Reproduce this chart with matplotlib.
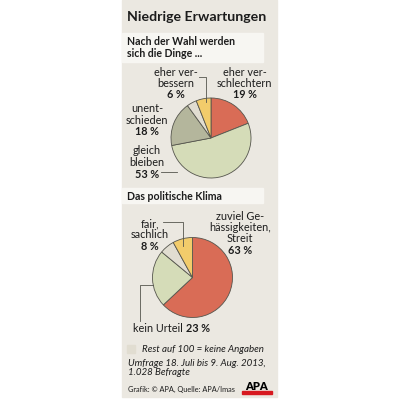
import matplotlib.pyplot as plt
from matplotlib.patches import Rectangle

plt.rcParams['font.family'] = ['Lato', 'DejaVu Sans']

# data
title = "Niedrige Erwartungen"
pie1_title = "Nach der Wahl werden\nsich die Dinge ..."
pie1_labels = ["eher ver-\nschlechtern", "gleich\nbleiben", "unent-\nschieden", "keine Angaben", "eher ver-\nbessern"]
pie1_values = [19, 53, 18, 4, 6]
pie2_title = "Das politische Klima"
pie2_labels = ["zuviel Ge-\nhässigkeiten,\nStreit", "kein Urteil", "keine Angaben", "fair,\nsachlich"]
pie2_values = [63, 23, 6, 8]
note = "Rest auf 100 = keine Angaben"
survey = "Umfrage 18. Juli bis 9. Aug. 2013,\n1.028 Befragte"
source = "Grafik: © APA, Quelle: APA/Imas"

RED = '#d96c56'
LGREEN = '#d5dcb8'
GGREEN = '#b4b69c'
LGREY = '#e1ddd1'
YELLOW = '#f2cc6b'
pie1_colors = [RED, LGREEN, GGREEN, LGREY, YELLOW]
pie2_colors = [RED, LGREEN, LGREY, YELLOW]

BG = '#ebe8e1'
BOX = '#f7f6f2'
TXT = '#1c1c1c'
LINE = '#55554d'

fig = plt.figure(figsize=(4, 4), dpi=100)
ax = fig.add_axes([0, 0, 1, 1])

# panel + header boxes (pixel coords, y downwards)
ax.add_patch(Rectangle((122, 0), 155, 397, color=BG, zorder=0))
ax.add_patch(Rectangle((122, 33), 141, 29, color=BOX, zorder=1))
ax.add_patch(Rectangle((122, 188), 141, 15, color=BOX, zorder=1))

ax.text(127, 17, title, fontsize=10.2, fontweight='bold', color=TXT, va='center')
ax.text(127, 47.5, pie1_title, fontsize=7.6, fontweight='bold', color=TXT,
        va='center', linespacing=1.05)
ax.text(127, 196, pie2_title, fontsize=7.6, fontweight='bold', color=TXT, va='center')

# y axis is inverted, so startangle=-90 + counterclock=True runs clockwise from 12 o'clock
wp = dict(edgecolor=LINE, linewidth=0.6)
ax.pie(pie1_values, colors=pie1_colors, startangle=-90, counterclock=True,
       center=(211, 138), radius=40, frame=True, wedgeprops=wp)
ax.pie(pie2_values, colors=pie2_colors, startangle=-90, counterclock=True,
       center=(192.5, 277.5), radius=40, frame=True, wedgeprops=wp)

FS = 7.8
lab = dict(fontsize=FS, color=TXT, ha='center', va='center')


def label(x, y, text, value, step=11.5):
    lines = text.split('\n')
    for i, line in enumerate(lines):
        ax.text(x, y + i * step, line, **lab)
    ax.text(x, y + len(lines) * step, f"{value} %", fontweight='bold', **lab)


label(176, 72, pie1_labels[4], pie1_values[4])
label(244.5, 72, pie1_labels[0], pie1_values[0])
label(147, 108.5, pie1_labels[2], pie1_values[2])
label(147, 151, pie1_labels[1], pie1_values[1])
ax.plot([199, 206, 206], [77, 77, 102], color=LINE, lw=0.6)
ax.plot([161, 177], [172, 172], color=LINE, lw=0.6)

label(150, 223.5, pie2_labels[3], pie2_values[3])
label(240, 216, pie2_labels[0], pie2_values[0])
ax.text(133, 328, pie2_labels[1], fontsize=FS, color=TXT, va='center')
ax.text(186.5, 328, f"{pie2_values[1]} %", fontsize=FS, color=TXT, va='center', fontweight='bold')
ax.plot([163, 183, 183], [222, 222, 246], color=LINE, lw=0.6)
ax.plot([153, 140, 140], [285, 285, 321], color=LINE, lw=0.6)

# footer
ax.add_patch(Rectangle((127, 345), 8, 8, color=LGREY, zorder=2))
ax.text(142, 349, note, fontsize=7, style='italic', color=TXT, va='center')
ax.text(128, 368, survey, fontsize=7, style='italic', color=TXT, va='center', linespacing=1.05)
ax.text(128, 389, source, fontsize=5.3, color=TXT, va='center')
ax.add_patch(Rectangle((242, 390.5), 30, 3.5, color='#d71920', zorder=2))
ax.text(257, 386.5, "APA", fontsize=8, fontweight='heavy', color='black',
        ha='center', va='center', zorder=3)

ax.set_xlim(0, 400)
ax.set_ylim(400, 0)
ax.set_aspect('equal')
ax.axis('off')
fig.savefig('out.png', dpi=100, facecolor='white')
